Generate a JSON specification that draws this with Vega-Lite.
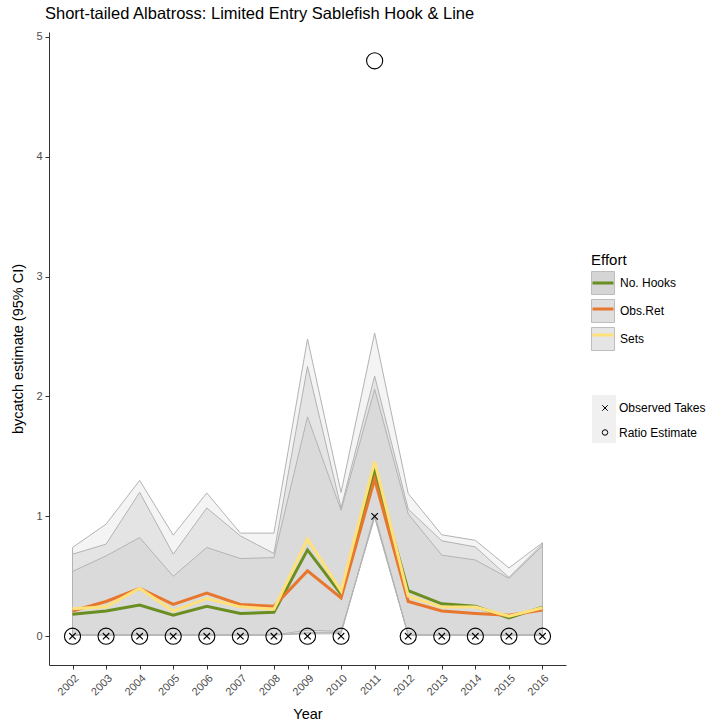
{
  "$schema": "https://vega.github.io/schema/vega-lite/v6.json",
  "width": 517,
  "height": 633,
  "autosize": {"type": "none"},
  "padding": {"left": 49, "top": 32, "right": 146, "bottom": 58},
  "title": {"text": "Short-tailed Albatross: Limited Entry Sablefish Hook & Line", "anchor": "start", "frame": "group", "fontSize": 16.5, "fontWeight": "normal", "font": "Liberation Sans", "color": "#000000", "offset": 8, "dx": -4},
  "config": {
    "view": {"stroke": null},
    "font": "Liberation Sans",
    "axis": {"grid": false, "domainColor": "#333333", "tickColor": "#333333", "labelColor": "#4d4d4d", "labelFontSize": 11, "titleFontSize": 14.5, "titleFontWeight": "normal", "titleColor": "#000000", "tickSize": 4, "labelFont": "Liberation Sans", "titleFont": "Liberation Sans"},
    "legend": {"labelFont": "Liberation Sans", "titleFont": "Liberation Sans", "labelFontSize": 12, "titleFontSize": 15, "titleFontWeight": "normal", "labelColor": "#000000", "titleColor": "#000000"}
  },
  "datasets": {
    "est": [
      {"Year": 2002, "Effort": "No. Hooks", "est": 0.184, "lo": 0.01, "hi": 0.684},
      {"Year": 2003, "Effort": "No. Hooks", "est": 0.21, "lo": 0.01, "hi": 0.768},
      {"Year": 2004, "Effort": "No. Hooks", "est": 0.26, "lo": 0.01, "hi": 1.2},
      {"Year": 2005, "Effort": "No. Hooks", "est": 0.176, "lo": 0.01, "hi": 0.684},
      {"Year": 2006, "Effort": "No. Hooks", "est": 0.25, "lo": 0.01, "hi": 1.07},
      {"Year": 2007, "Effort": "No. Hooks", "est": 0.19, "lo": 0.01, "hi": 0.837},
      {"Year": 2008, "Effort": "No. Hooks", "est": 0.2, "lo": 0.01, "hi": 0.69},
      {"Year": 2009, "Effort": "No. Hooks", "est": 0.72, "lo": 0.03, "hi": 2.25},
      {"Year": 2010, "Effort": "No. Hooks", "est": 0.35, "lo": 0.03, "hi": 1.07},
      {"Year": 2011, "Effort": "No. Hooks", "est": 1.38, "lo": 1.0, "hi": 2.17},
      {"Year": 2012, "Effort": "No. Hooks", "est": 0.38, "lo": 0.01, "hi": 1.06},
      {"Year": 2013, "Effort": "No. Hooks", "est": 0.27, "lo": 0.01, "hi": 0.796},
      {"Year": 2014, "Effort": "No. Hooks", "est": 0.25, "lo": 0.01, "hi": 0.745},
      {"Year": 2015, "Effort": "No. Hooks", "est": 0.153, "lo": 0.01, "hi": 0.49},
      {"Year": 2016, "Effort": "No. Hooks", "est": 0.243, "lo": 0.01, "hi": 0.77},
      {"Year": 2002, "Effort": "Obs.Ret", "est": 0.21, "lo": 0.01, "hi": 0.54},
      {"Year": 2003, "Effort": "Obs.Ret", "est": 0.29, "lo": 0.01, "hi": 0.67},
      {"Year": 2004, "Effort": "Obs.Ret", "est": 0.4, "lo": 0.01, "hi": 0.823},
      {"Year": 2005, "Effort": "Obs.Ret", "est": 0.265, "lo": 0.01, "hi": 0.5},
      {"Year": 2006, "Effort": "Obs.Ret", "est": 0.36, "lo": 0.01, "hi": 0.74},
      {"Year": 2007, "Effort": "Obs.Ret", "est": 0.265, "lo": 0.01, "hi": 0.648},
      {"Year": 2008, "Effort": "Obs.Ret", "est": 0.25, "lo": 0.01, "hi": 0.656},
      {"Year": 2009, "Effort": "Obs.Ret", "est": 0.545, "lo": 0.05, "hi": 1.83},
      {"Year": 2010, "Effort": "Obs.Ret", "est": 0.32, "lo": 0.04, "hi": 1.05},
      {"Year": 2011, "Effort": "Obs.Ret", "est": 1.31, "lo": 0.99, "hi": 2.06},
      {"Year": 2012, "Effort": "Obs.Ret", "est": 0.29, "lo": 0.01, "hi": 1.02},
      {"Year": 2013, "Effort": "Obs.Ret", "est": 0.21, "lo": 0.01, "hi": 0.676},
      {"Year": 2014, "Effort": "Obs.Ret", "est": 0.19, "lo": 0.01, "hi": 0.636},
      {"Year": 2015, "Effort": "Obs.Ret", "est": 0.176, "lo": 0.01, "hi": 0.483},
      {"Year": 2016, "Effort": "Obs.Ret", "est": 0.218, "lo": 0.01, "hi": 0.754},
      {"Year": 2002, "Effort": "Sets", "est": 0.23, "lo": 0.01, "hi": 0.74},
      {"Year": 2003, "Effort": "Sets", "est": 0.245, "lo": 0.01, "hi": 0.935},
      {"Year": 2004, "Effort": "Sets", "est": 0.4, "lo": 0.01, "hi": 1.3},
      {"Year": 2005, "Effort": "Sets", "est": 0.21, "lo": 0.01, "hi": 0.843},
      {"Year": 2006, "Effort": "Sets", "est": 0.315, "lo": 0.01, "hi": 1.195},
      {"Year": 2007, "Effort": "Sets", "est": 0.245, "lo": 0.01, "hi": 0.86},
      {"Year": 2008, "Effort": "Sets", "est": 0.225, "lo": 0.01, "hi": 0.86},
      {"Year": 2009, "Effort": "Sets", "est": 0.81, "lo": 0.02, "hi": 2.48},
      {"Year": 2010, "Effort": "Sets", "est": 0.377, "lo": 0.02, "hi": 1.2},
      {"Year": 2011, "Effort": "Sets", "est": 1.457, "lo": 1.02, "hi": 2.53},
      {"Year": 2012, "Effort": "Sets", "est": 0.335, "lo": 0.01, "hi": 1.19},
      {"Year": 2013, "Effort": "Sets", "est": 0.243, "lo": 0.01, "hi": 0.846},
      {"Year": 2014, "Effort": "Sets", "est": 0.243, "lo": 0.01, "hi": 0.8},
      {"Year": 2015, "Effort": "Sets", "est": 0.167, "lo": 0.01, "hi": 0.57},
      {"Year": 2016, "Effort": "Sets", "est": 0.237, "lo": 0.01, "hi": 0.78}
    ],
    "pts": [
      {"Year": 2002, "type": "Observed Takes", "value": 0}, {"Year": 2002, "type": "Ratio Estimate", "value": 0},
      {"Year": 2003, "type": "Observed Takes", "value": 0}, {"Year": 2003, "type": "Ratio Estimate", "value": 0},
      {"Year": 2004, "type": "Observed Takes", "value": 0}, {"Year": 2004, "type": "Ratio Estimate", "value": 0},
      {"Year": 2005, "type": "Observed Takes", "value": 0}, {"Year": 2005, "type": "Ratio Estimate", "value": 0},
      {"Year": 2006, "type": "Observed Takes", "value": 0}, {"Year": 2006, "type": "Ratio Estimate", "value": 0},
      {"Year": 2007, "type": "Observed Takes", "value": 0}, {"Year": 2007, "type": "Ratio Estimate", "value": 0},
      {"Year": 2008, "type": "Observed Takes", "value": 0}, {"Year": 2008, "type": "Ratio Estimate", "value": 0},
      {"Year": 2009, "type": "Observed Takes", "value": 0}, {"Year": 2009, "type": "Ratio Estimate", "value": 0},
      {"Year": 2010, "type": "Observed Takes", "value": 0}, {"Year": 2010, "type": "Ratio Estimate", "value": 0},
      {"Year": 2011, "type": "Observed Takes", "value": 1}, {"Year": 2011, "type": "Ratio Estimate", "value": 4.8},
      {"Year": 2012, "type": "Observed Takes", "value": 0}, {"Year": 2012, "type": "Ratio Estimate", "value": 0},
      {"Year": 2013, "type": "Observed Takes", "value": 0}, {"Year": 2013, "type": "Ratio Estimate", "value": 0},
      {"Year": 2014, "type": "Observed Takes", "value": 0}, {"Year": 2014, "type": "Ratio Estimate", "value": 0},
      {"Year": 2015, "type": "Observed Takes", "value": 0}, {"Year": 2015, "type": "Ratio Estimate", "value": 0},
      {"Year": 2016, "type": "Observed Takes", "value": 0}, {"Year": 2016, "type": "Ratio Estimate", "value": 0}
    ]
  },
  "encoding": {
    "x": {"field": "Year", "type": "quantitative", "scale": {"domain": [2001.3, 2016.7], "nice": false, "zero": false},
      "axis": {"values": [2002, 2003, 2004, 2005, 2006, 2007, 2008, 2009, 2010, 2011, 2012, 2013, 2014, 2015, 2016], "format": "d", "labelAngle": -45, "labelAlign": "right", "labelBaseline": "top", "title": "Year", "titlePadding": 10, "labelPadding": 3}}
  },
  "layer": [
    {
      "data": {"name": "est"},
      "mark": {"type": "area", "fillOpacity": 0.15, "stroke": "#b3b3b3", "strokeWidth": 1, "strokeOpacity": 1},
      "encoding": {
        "y": {"field": "lo", "type": "quantitative", "scale": {"domain": [-0.24, 5.04], "nice": false, "zero": false},
          "axis": {"values": [0, 1, 2, 3, 4, 5], "format": "d", "title": "bycatch estimate (95% CI)", "titlePadding": 10, "labelPadding": 3}},
        "y2": {"field": "hi"},
        "fill": {"field": "Effort", "type": "nominal", "scale": {"range": ["#888888", "#a4a4a4", "#b4b4b4"]},
          "legend": {"orient": "none", "legendX": 542, "legendY": 221, "title": "Effort", "symbolType": "square", "symbolSize": 529, "symbolStrokeColor": "#bdbdbd", "symbolStrokeWidth": 1, "rowPadding": 0, "labelOffset": 5, "titlePadding": 3, "zindex": 0,
            "encode": {"symbols": {"update": {"fillOpacity": {"value": 0.35}, "opacity": {"value": 1}, "stroke": {"value": "#bdbdbd"}}}}}}
      }
    },
    {
      "data": {"name": "est"},
      "mark": {"type": "line", "strokeWidth": 3},
      "encoding": {
        "y": {"field": "est", "type": "quantitative"},
        "stroke": {"field": "Effort", "type": "nominal", "scale": {"domain": ["No. Hooks", "Obs.Ret", "Sets"], "range": ["#6b8e23", "#e8772e", "#ffe17a"]},
          "legend": {"orient": "none", "legendX": 542, "legendY": 221, "title": "Effort", "titleOpacity": 0, "labelOpacity": 0, "symbolType": "stroke", "symbolSize": 441, "symbolStrokeWidth": 3, "rowPadding": 8, "labelOffset": 5, "titlePadding": 3, "zindex": 1}}
      }
    },
    {
      "data": {"name": "pts"},
      "transform": [{"filter": "datum.type == 'none'"}],
      "mark": {"type": "point", "filled": true, "shape": "square"},
      "encoding": {
        "y": {"field": "value", "type": "quantitative"},
        "color": {"field": "type", "type": "nominal", "scale": {"domain": ["Observed Takes", "Ratio Estimate"], "range": ["#f0f0f0", "#f0f0f0"]},
          "legend": {"orient": "none", "legendX": 543, "legendY": 363, "title": null, "symbolType": "square", "symbolSize": 576, "symbolStrokeColor": "transparent", "symbolStrokeWidth": 0, "symbolOpacity": 1, "labelOpacity": 0, "rowPadding": 0, "zindex": 0}}
      }
    },
    {
      "data": {"name": "pts"},
      "transform": [{"filter": "datum.type == 'Observed Takes'"}],
      "mark": {"type": "point", "filled": false, "stroke": "#000000", "strokeWidth": 1.1, "opacity": 1, "size": 42},
      "encoding": {
        "y": {"field": "value", "type": "quantitative"},
        "shape": {"field": "type", "type": "nominal", "scale": {"range": ["M-1,-1L1,1M-1,1L1,-1", "circle"]},
          "legend": {"orient": "none", "legendX": 543, "legendY": 370, "title": null, "symbolSize": 30, "symbolStrokeColor": "#000000", "symbolStrokeWidth": 1, "symbolOffset": 7, "labelOffset": 8, "rowPadding": 12.5, "zindex": 1}}
      }
    },
    {
      "data": {"name": "pts"},
      "transform": [{"filter": "datum.type == 'Ratio Estimate'"}],
      "mark": {"type": "point", "filled": false, "stroke": "#000000", "strokeWidth": 1.1, "opacity": 1, "size": 260},
      "encoding": {
        "y": {"field": "value", "type": "quantitative"},
        "shape": {"field": "type", "type": "nominal"}
      }
    }
  ]
}
